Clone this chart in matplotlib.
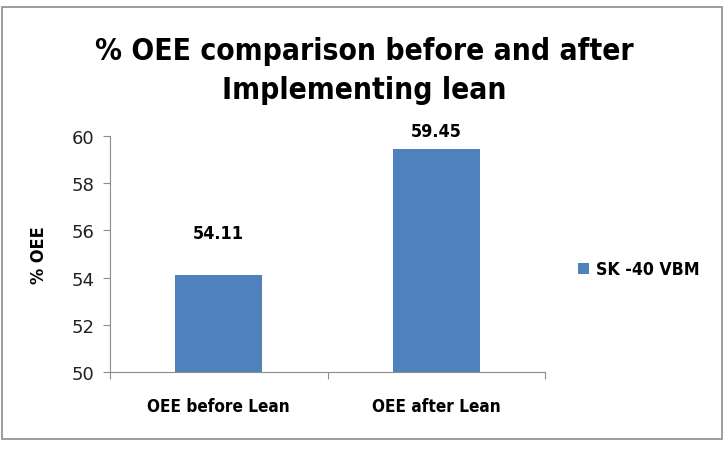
import matplotlib.pyplot as plt
from matplotlib.patches import Rectangle

categories = ["OEE before Lean", "OEE after Lean"]
oee_values = [54.11, 59.45]
series_name = "SK -40 VBM"
y_ticks = [50, 52, 54, 56, 58, 60]

bar_color = "#4F81BD"
grey = "#8C8C8C"
label_offsets = [30, 13]  # points above the bar top, as placed in the original

fig = plt.figure(figsize=(7.28, 4.56), dpi=100)
# outer chart border
fig.patches.append(Rectangle((2 / 728, 1 - 440 / 456), 720 / 728, 432 / 456,
                             transform=fig.transFigure, fill=False,
                             edgecolor=grey, linewidth=1.2))

ax = fig.add_axes([110 / 728, 1 - 373 / 456, 435 / 728, 236 / 456])
x = range(len(categories))
bars = ax.bar(x, oee_values, width=0.4, color=bar_color, label=series_name)
ax.set_xlim(-0.5, 1.5)
ax.set_ylim(50, 60)
ax.set_yticks(y_ticks)
ax.set_yticklabels([str(t) for t in y_ticks], fontsize=13, color="#222222")
ax.set_xticks([-0.5, 0.5, 1.5], minor=False)
ax.set_xticklabels([])
ax.set_xticks(list(x), minor=True)
ax.set_xticklabels(categories, minor=True, fontsize=12.3, fontweight="bold",
                   fontstretch="condensed")
ax.tick_params(axis="x", which="minor", length=0, pad=18)
ax.tick_params(axis="x", which="major", length=5, color=grey, direction="out")
ax.tick_params(axis="y", length=5, color=grey, pad=6)

for side in ["top", "right"]:
    ax.spines[side].set_visible(False)
for side in ["left", "bottom"]:
    ax.spines[side].set_color(grey)

ax.set_ylabel("% OEE", fontsize=13, fontweight="bold", labelpad=17,
              fontstretch="condensed")

for b, v, off in zip(bars, oee_values, label_offsets):
    ax.annotate(f"{v:.2f}", (b.get_x() + b.get_width() / 2, v),
                xytext=(0, off), textcoords="offset points",
                ha="center", va="center", fontsize=13, fontweight="bold",
                fontstretch="condensed")

fig.text(0.5, 1 - 71 / 456, "% OEE comparison before and after\nImplementing lean",
         ha="center", va="center", fontsize=21.5, fontweight="bold",
         fontstretch="condensed", linespacing=1.4)

leg = ax.legend(loc="center left", bbox_to_anchor=(1.04, 0.435), frameon=False,
                handlelength=0.6, handleheight=0.6, handletextpad=0.4,
                prop={"size": 12.7, "weight": "bold", "stretch": "condensed"})

fig.savefig("out.png", dpi=100)
